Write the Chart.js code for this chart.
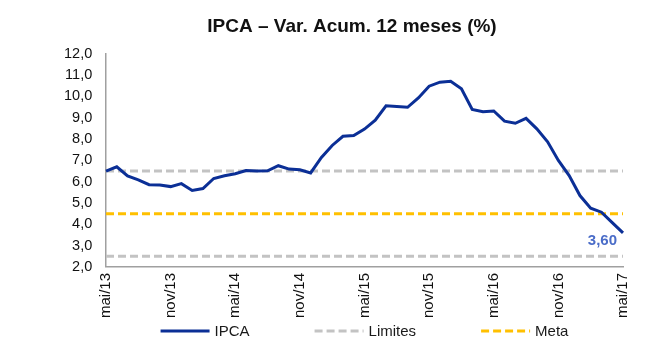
<!DOCTYPE html>
<html>
<head>
<meta charset="utf-8">
<script src="https://cdn.jsdelivr.net/npm/chart.js@4"></script>
<style>
  html, body { margin: 0; padding: 0; background: #fff; }
  #wrap { width: 653px; height: 363px; }
</style>
</head>
<body>
<div id="wrap"><canvas id="chart" width="653" height="363"></canvas></div>
<script>
// IPCA 12-month accumulated, monthly, mai/13 .. mai/17
const MONTHS = [
  'mai/13', 'jun/13', 'jul/13', 'ago/13', 'set/13', 'out/13', 'nov/13', 'dez/13',
  'jan/14', 'fev/14', 'mar/14', 'abr/14', 'mai/14', 'jun/14', 'jul/14', 'ago/14',
  'set/14', 'out/14', 'nov/14', 'dez/14',
  'jan/15', 'fev/15', 'mar/15', 'abr/15', 'mai/15', 'jun/15', 'jul/15', 'ago/15',
  'set/15', 'out/15', 'nov/15', 'dez/15',
  'jan/16', 'fev/16', 'mar/16', 'abr/16', 'mai/16', 'jun/16', 'jul/16', 'ago/16',
  'set/16', 'out/16', 'nov/16', 'dez/16',
  'jan/17', 'fev/17', 'mar/17', 'abr/17', 'mai/17',
];

const IPCA = [
  6.50, 6.70, 6.27, 6.09, 5.86, 5.84, 5.77, 5.91,
  5.59, 5.68, 6.15, 6.28, 6.37, 6.52, 6.50, 6.51,
  6.75, 6.59, 6.56, 6.41,
  7.14, 7.70, 8.13, 8.17, 8.47, 8.89, 9.56, 9.53,
  9.49, 9.93, 10.48, 10.67,
  10.71, 10.36, 9.39, 9.28, 9.32, 8.84, 8.74, 8.97,
  8.48, 7.87, 7.00, 6.29,
  5.35, 4.76, 4.57, 4.08, 3.60,
];

const LIMITE_SUP = 6.5;
const LIMITE_INF = 2.5;
const META = 4.5;
const Y_MIN = 2;
const Y_MAX = 12;
const TICK_EVERY = 6; // one label per semester

const FONT = '"Liberation Sans", Arial, sans-serif';
const BLUE = '#0b2f96';
const GRAY = '#c3c3c3';
const GOLD = '#ffc000';
const AXIS = '#a0a0a0';

const first = MONTHS[0];
const last = MONTHS[MONTHS.length - 1];
const flat = (v) => [{ x: first, y: v }, { x: last, y: v }];

// last value label, placed just left/below the final point
const lastValueLabel = {
  id: 'lastValueLabel',
  afterDatasetsDraw(chart) {
    const meta = chart.getDatasetMeta(0);
    const pt = meta.data[meta.data.length - 1];
    if (!pt) return;
    const { ctx } = chart;
    ctx.save();
    ctx.font = `bold 15px ${FONT}`;
    ctx.fillStyle = '#4a6cc8';
    ctx.textAlign = 'right';
    ctx.textBaseline = 'middle';
    ctx.fillText(IPCA[IPCA.length - 1].toFixed(2).replace('.', ','), pt.x - 6, pt.y + 8);
    ctx.restore();
  },
};

// legend with wide spacing between entries, drawn under the x labels
const lineLegend = {
  id: 'lineLegend',
  afterDraw(chart) {
    const { ctx, chartArea } = chart;
    const items = chart.data.datasets.filter((d) => d.inLegend);
    const lineLen = 49;
    const textGap = 5;
    const itemGap = 65;
    ctx.save();
    ctx.font = `15px ${FONT}`;
    const widths = items.map((d) => lineLen + textGap + ctx.measureText(d.label).width);
    const total = widths.reduce((a, b) => a + b, 0) + itemGap * (items.length - 1);
    let x = (chartArea.left + chartArea.right) / 2 - total / 2;
    const y = chart.height - 32;
    items.forEach((d, i) => {
      ctx.beginPath();
      ctx.strokeStyle = d.borderColor;
      ctx.lineWidth = d.borderWidth;
      ctx.setLineDash(d.borderDash || []);
      ctx.moveTo(x, y);
      ctx.lineTo(x + lineLen, y);
      ctx.stroke();
      ctx.setLineDash([]);
      ctx.fillStyle = '#1a1a1a';
      ctx.textAlign = 'left';
      ctx.textBaseline = 'middle';
      ctx.fillText(d.label, x + lineLen + textGap, y + 1);
      x += widths[i] + itemGap;
    });
    ctx.restore();
  },
};

new Chart(document.getElementById('chart'), {
  type: 'line',
  data: {
    labels: MONTHS,
    datasets: [
      {
        label: 'IPCA',
        data: IPCA,
        borderColor: BLUE,
        borderWidth: 3,
        pointRadius: 0,
        tension: 0,
        inLegend: true,
      },
      {
        label: 'Limites',
        data: flat(LIMITE_SUP),
        borderColor: GRAY,
        borderWidth: 3,
        borderDash: [8, 4],
        pointRadius: 0,
        inLegend: true,
      },
      {
        label: 'Limites',
        data: flat(LIMITE_INF),
        borderColor: GRAY,
        borderWidth: 3,
        borderDash: [8, 4],
        pointRadius: 0,
      },
      {
        label: 'Meta',
        data: flat(META),
        borderColor: GOLD,
        borderWidth: 3,
        borderDash: [8, 4],
        pointRadius: 0,
        inLegend: true,
      },
    ],
  },
  options: {
    responsive: false,
    animation: false,
    layout: { padding: { top: 15, left: 81, right: 30, bottom: 39 } },
    plugins: {
      legend: { display: false },
      tooltip: { enabled: false },
      title: {
        display: true,
        text: 'IPCA – Var. Acum. 12 meses (%)',
        color: '#111',
        font: { family: FONT, size: 19, weight: 'bold' },
        padding: { top: 0, bottom: 16 },
      },
    },
    scales: {
      x: {
        grid: { display: false, drawTicks: false },
        border: { display: true, color: AXIS, width: 1.5 },
        ticks: {
          autoSkip: false,
          minRotation: 90,
          maxRotation: 90,
          padding: 6,
          color: '#111',
          font: { family: FONT, size: 15 },
          callback: (v, i) => (i % TICK_EVERY === 0 ? MONTHS[i] : ''),
        },
      },
      y: {
        min: Y_MIN,
        max: Y_MAX,
        // narrow axis box so the title centres like the original;
        // mirrored labels are pushed back out to the left of the axis
        afterFit: (scale) => { scale.width = 25; },
        grid: { display: false, drawTicks: false },
        border: { display: true, color: AXIS, width: 1.5 },
        ticks: {
          stepSize: 1,
          mirror: true,
          crossAlign: 'far',
          padding: -42,
          color: '#111',
          font: { family: FONT, size: 14.5 },
          callback: (v) => v.toFixed(1).replace('.', ','),
        },
      },
    },
  },
  plugins: [lastValueLabel, lineLegend],
});
</script>
</body>
</html>
